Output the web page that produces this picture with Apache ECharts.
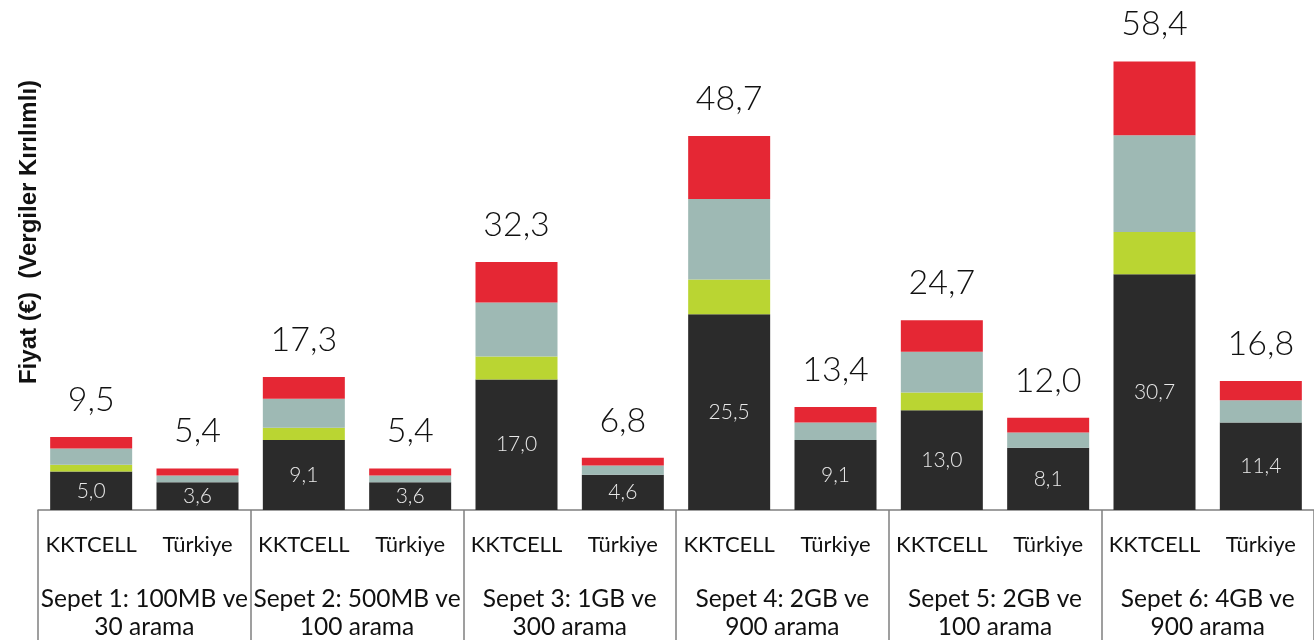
<!DOCTYPE html>
<html>
<head>
<meta charset="utf-8">
<script src="https://cdn.jsdelivr.net/npm/echarts@6/dist/echarts.min.js"></script>
<style>html,body{margin:0;padding:0;background:#fff;overflow:hidden}#c{width:1314px;height:641px}</style>
</head>
<body>
<div id="c"></div>
<script>
const barLabels = ['KKTCELL','Türkiye','KKTCELL','Türkiye','KKTCELL','Türkiye','KKTCELL','Türkiye','KKTCELL','Türkiye','KKTCELL','Türkiye'];
const groupLabels = ['Sepet 1: 100MB ve\n30 arama','Sepet 2: 500MB ve\n100 arama','Sepet 3: 1GB ve\n300 arama','Sepet 4: 2GB ve\n900 arama','Sepet 5: 2GB ve\n100 arama','Sepet 6: 4GB ve\n900 arama'];
const baseValues  = [5.0, 3.6, 9.1, 3.6, 17.0, 4.6, 25.5, 9.1, 13.0, 8.1, 30.7, 11.4];
const greenValues = [0.9, 0,   1.6, 0,   3.0,  0,   4.5,  0,   2.3,  0,   5.5,  0];
const grayValues  = [2.1, 0.9, 3.8, 0.9, 7.0,  1.2, 10.5, 2.3, 5.3,  2.0, 12.6, 2.9];
const redValues   = [1.5, 0.9, 2.8, 0.9, 5.3,  1.0, 8.2,  2.0, 4.1,  1.9, 9.6,  2.5];
const totals      = [9.5, 5.4, 17.3, 5.4, 32.3, 6.8, 48.7, 13.4, 24.7, 12.0, 58.4, 16.8];
const yTitle = 'Fiyat (€)  (Vergiler Kırılımlı)';

const fmt = v => v.toFixed(1).replace('.', ',');
const valFont = "'Lato Light', Lato, sans-serif";
const catFont = "Lato, 'Open Sans', sans-serif";

const chart = echarts.init(document.getElementById('c'), null, {renderer:'canvas', width:1314, height:641});
const common = {type:'bar', stack:'s', barWidth:82, xAxisIndex:0};
chart.setOption({
  animation:false,
  grid:{left:38, width:1276, top:0, height:511, containLabel:false},
  xAxis:[
    {type:'category', data:barLabels, position:'bottom',
     axisLine:{show:true, lineStyle:{color:'#808080', width:1.5}},
     axisTick:{show:false},
     axisLabel:{margin:24, color:'#111', fontSize:22, fontFamily:catFont, interval:0}},
    {type:'category', data:groupLabels, position:'bottom', offset:0,
     axisLine:{show:false},
     axisTick:{show:true, length:130, lineStyle:{color:'#808080', width:1.5}, alignWithLabel:false},
     axisLabel:{margin:75, color:'#111', fontSize:24.5, lineHeight:28, fontFamily:catFont, interval:0}}
  ],
  yAxis:{type:'value', min:0, max:66.4, show:false},
  series:[
    Object.assign({name:'base', data:baseValues, itemStyle:{color:'#2b2b2b'},
      label:{show:true, position:'inside', color:'#e8e8e8', fontSize:21, fontFamily:valFont, fontWeight:300,
        formatter:p=>fmt(p.value)}}, common),
    Object.assign({name:'green', data:greenValues, itemStyle:{color:'#bad532'}}, common),
    Object.assign({name:'gray', data:grayValues, itemStyle:{color:'#9eb9b4'}}, common),
    Object.assign({name:'red', data:redValues, itemStyle:{color:'#e52734'},
      label:{show:true, position:'top', distance:20, color:'#111', fontSize:34, fontFamily:valFont, fontWeight:300,
        formatter:p=>fmt(totals[p.dataIndex])}}, common)
  ],
  graphic:[{type:'text', x:29, y:232, rotation:Math.PI/2,
    style:{text:yTitle, fontSize:24, fontWeight:'bold', fontFamily:"'Liberation Sans', Arial, sans-serif",
      fill:'#111', textAlign:'center', textVerticalAlign:'middle'}}]
});
</script>
</body>
</html>
